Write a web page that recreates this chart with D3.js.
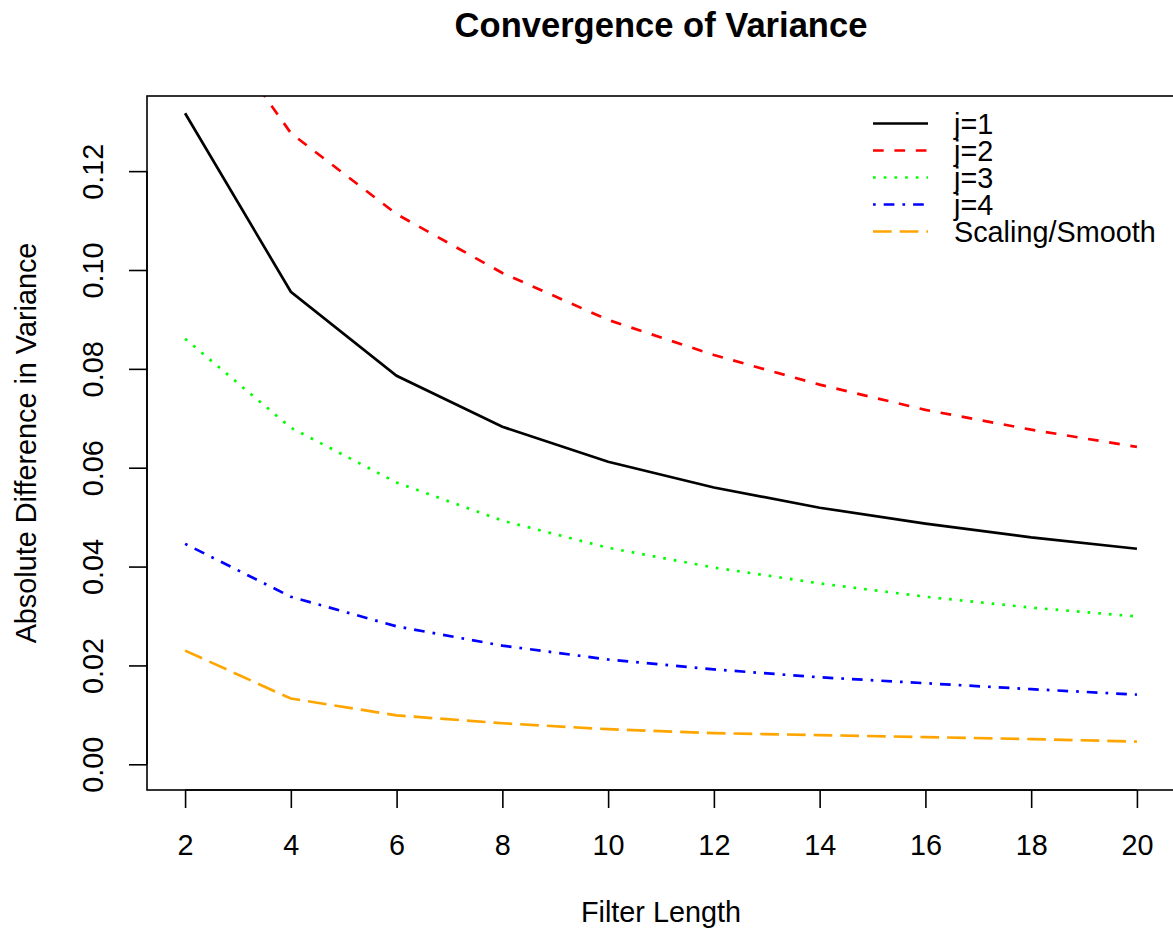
<html>
<head>
  <style>
  body { margin: 0; background: white; }
  svg text { font-family: "Liberation Sans", Arial, Helvetica, sans-serif; fill: black; }
  </style>
  <script src="https://d3js.org/d3.v7.min.js"></script>
</head>
<body>
  <script type="text/javascript">
  // data
  var filterLength = [2, 4, 6, 8, 10, 12, 14, 16, 18, 20];
  var j1 = [0.1317, 0.0956, 0.0786, 0.0683, 0.0612, 0.0560, 0.0519, 0.0487, 0.0459, 0.0436];
  var j2 = [0.1580, 0.1277, 0.1113, 0.0994, 0.0899, 0.0828, 0.0768, 0.0717, 0.0677, 0.0642];
  var j3 = [0.0861, 0.0681, 0.0570, 0.0493, 0.0438, 0.0398, 0.0366, 0.0339, 0.0317, 0.0299];
  var j4 = [0.0446, 0.0339, 0.0279, 0.0240, 0.0212, 0.0192, 0.0176, 0.0164, 0.0152, 0.0141];
  var smooth = [0.0230, 0.0133, 0.0099, 0.0083, 0.0071, 0.0063, 0.0059, 0.0055, 0.0051, 0.0046];
  var seriesNames = ["j=1", "j=2", "j=3", "j=4", "Scaling/Smooth"];
  var seriesValues = [j1, j2, j3, j4, smooth];
  var seriesColors = ["black", "red", "#00ff00", "blue", "orange"];
  var xTicks = [2, 4, 6, 8, 10, 12, 14, 16, 18, 20];
  var yTicks = [0, 0.02, 0.04, 0.06, 0.08, 0.10, 0.12];

  // R style dash patterns (solid, dashed, dotted, dotdash, longdash)
  var dashes = [null, "10.7,10.7", "2.7,8", "2.7,8,10.7,8", "18.7,8"];

  var screen = {width: 1173, height: 936};
  var box = {left: 147, top: 96, right: 1175, bottom: 790};
  var fs = 28.8;

  // R adds 4% on each side of the range
  var xlim = [2, 20], ylim = [0, 0.13];
  var xpad = (xlim[1] - xlim[0]) * 0.04, ypad = (ylim[1] - ylim[0]) * 0.04;

  var xScale = d3.scaleLinear()
    .domain([xlim[0] - xpad, xlim[1] + xpad])
    .range([box.left, box.right]);
  var yScale = d3.scaleLinear()
    .domain([ylim[0] - ypad, ylim[1] + ypad])
    .range([box.bottom, box.top]);

  var svg = d3.select("body").append("svg")
    .attr("width", screen.width)
    .attr("height", screen.height);

  svg.append("defs").append("clipPath")
    .attr("id", "plotclip")
    .append("rect")
    .attr("x", box.left).attr("y", box.top)
    .attr("width", box.right - box.left)
    .attr("height", box.bottom - box.top);

  // lines
  var line = d3.line()
    .x(function(d, i){ return xScale(filterLength[i]) })
    .y(function(d){ return yScale(d) });

  svg.append("g")
    .attr("clip-path", "url(#plotclip)")
    .selectAll("path")
    .data(seriesValues)
    .enter()
    .append("path")
    .attr("d", line)
    .attr("fill", "none")
    .attr("stroke", function(d, i){ return seriesColors[i] })
    .attr("stroke-width", 2.7)
    .attr("stroke-dasharray", function(d, i){ return dashes[i] });

  // frame
  svg.append("rect")
    .attr("x", box.left).attr("y", box.top)
    .attr("width", box.right - box.left)
    .attr("height", box.bottom - box.top)
    .attr("fill", "none")
    .attr("stroke", "black")
    .attr("stroke-width", 1.6);

  // x axis
  var xAxis = d3.axisBottom(xScale)
    .tickValues(xTicks)
    .tickSize(18)
    .tickPadding(28)
    .tickSizeOuter(0);
  var gx = svg.append("g")
    .attr("transform", "translate(0," + box.bottom + ")")
    .call(xAxis);
  gx.select(".domain")
    .attr("d", "M" + xScale(2) + ",0H" + xScale(20))
    .attr("stroke-width", 1.6);
  gx.selectAll(".tick line").attr("stroke-width", 1.6);
  gx.selectAll(".tick text")
    .attr("font-size", fs)
    .attr("font-family", null)
    .attr("dy", null)
    .attr("y", 65);

  // y axis
  var yAxis = d3.axisLeft(yScale)
    .tickValues(yTicks)
    .tickSize(18)
    .tickFormat(d3.format(".2f"))
    .tickSizeOuter(0);
  var gy = svg.append("g")
    .attr("transform", "translate(" + box.left + ",0)")
    .call(yAxis);
  gy.select(".domain")
    .attr("d", "M0," + yScale(0) + "V" + yScale(0.12))
    .attr("stroke-width", 1.6);
  gy.selectAll(".tick line").attr("stroke-width", 1.6);
  gy.selectAll(".tick text")
    .attr("font-size", fs)
    .attr("font-family", null)
    .attr("x", null)
    .attr("dy", null)
    .attr("text-anchor", "middle")
    .attr("transform", "translate(-44,0) rotate(-90)");

  // titles
  svg.append("text")
    .attr("x", (box.left + box.right) / 2)
    .attr("y", 37)
    .attr("text-anchor", "middle")
    .attr("font-size", fs * 1.2)
    .attr("font-weight", "bold")
    .text("Convergence of Variance");

  svg.append("text")
    .attr("x", (box.left + box.right) / 2)
    .attr("y", 922)
    .attr("text-anchor", "middle")
    .attr("font-size", fs)
    .text("Filter Length");

  svg.append("text")
    .attr("transform", "translate(36," + ((box.top + box.bottom) / 2) + ") rotate(-90)")
    .attr("text-anchor", "middle")
    .attr("font-size", fs)
    .text("Absolute Difference in Variance");

  // legend
  var legend = svg.append("g")
    .selectAll("g")
    .data(seriesNames)
    .enter()
    .append("g")
    .attr("transform", function(d, i){ return "translate(873," + (123.5 + i * 27) + ")" });

  legend.append("line")
    .attr("x1", 0).attr("x2", 55)
    .attr("stroke", function(d, i){ return seriesColors[i] })
    .attr("stroke-width", 2.7)
    .attr("stroke-dasharray", function(d, i){ return dashes[i] });

  legend.append("text")
    .attr("x", 81)
    .attr("y", 10)
    .attr("font-size", fs)
    .text(function(d){ return d });
  </script>
</body>
</html>
